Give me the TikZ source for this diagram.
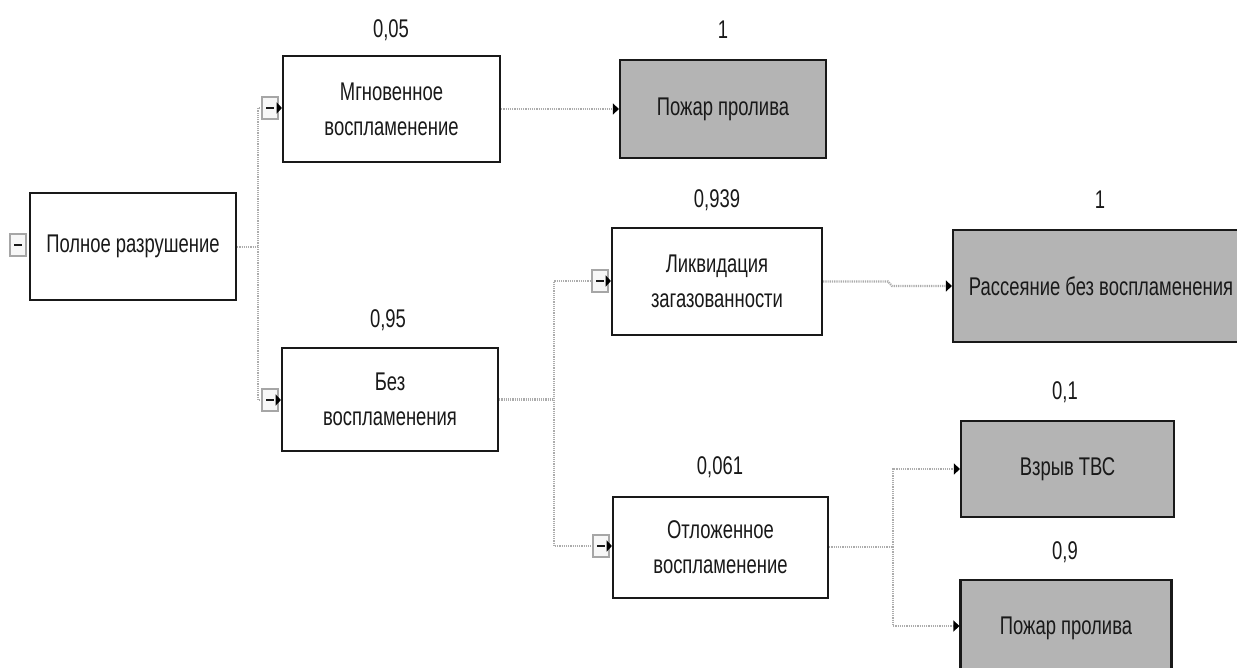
\documentclass[tikz,border=0pt]{standalone}
\usepackage{fontspec}
\setmainfont[FakeStretch=0.72]{Liberation Sans}
\usetikzlibrary{arrows.meta}
\definecolor{boxgray}{RGB}{180,180,180}
\definecolor{inkc}{RGB}{25,25,25}
\begin{document}
\begin{tikzpicture}[x=0.5pt,y=-0.5pt,
  txt/.style={font=\fontsize{12.8}{17.5}\selectfont, text=inkc},
  box/.style={txt, draw=inkc, line width=1.1pt, inner sep=0pt, align=center, fill=white},
  endbox/.style={box, fill=boxgray},
  num/.style={txt, inner sep=0pt},
  icon/.style={draw=gray!70, fill=gray!6, line width=0.9pt, minimum width=8pt, minimum height=11pt, inner sep=0pt,
    path picture={\draw[line width=1.4pt, inkc] ([xshift=-2pt]path picture bounding box.center) -- ([xshift=2pt]path picture bounding box.center);}},
  conn/.style={draw=gray!65, line width=1.1pt, dash pattern=on 0.6pt off 0.5pt},
  tip/.style={-{Triangle[length=3pt,width=5.5pt,color=black]}},
  short/.style={draw=black, line width=0.5pt, -{Triangle[length=2.6pt,width=5.5pt,color=black]}}
]
\clip (0,0) rectangle (1237,668);
\fill[white] (0,0) rectangle (1237,668);

% boxes
\node[box, minimum width=103pt, minimum height=53.5pt] (A) at (133,246.5) {Полное разрушение};
\node[box, minimum width=108.5pt, minimum height=53pt] (B) at (391.5,109) {Мгновенное\\воспламенение};
\node[box, minimum width=108pt, minimum height=51.5pt] (C) at (390,399.5) {Без\\воспламенения};
\node[endbox, minimum width=103pt, minimum height=49pt] (D) at (723,109) {Пожар пролива};
\node[box, minimum width=105pt, minimum height=53.5pt] (E) at (717,281.5) {Ликвидация\\загазованности};
\node[box, minimum width=107.5pt, minimum height=50.5pt] (F) at (720.5,547.5) {Отложенное\\воспламенение};
\node[endbox, minimum width=148pt, minimum height=56pt] (G) at (1101,286) {Рассеяние без воспламенения};
\node[endbox, minimum width=106.5pt, minimum height=48pt] (H) at (1067.5,469) {Взрыв ТВС};
\node[endbox, minimum width=105.5pt, minimum height=48pt] (I) at (1066,628) {Пожар пролива};

% numbers
\node[num] (nB) at (391,30) {0,05};
\node[num] (nD) at (723,30) {1};
\node[num] (nC) at (388,320) {0,95};
\node[num] (nE) at (717,200) {0,939};
\node[num] (nG) at (1100,200) {1};
\node[num] (nF) at (720,467) {0,061};
\node[num] (nH) at (1065,392) {0,1};
\node[num] (nI) at (1065,552) {0,9};

% collapse icons
\node[icon] (mA) at (18,245) {};
\node[icon] (mB) at (270,108) {};
\node[icon] (mC) at (270,400) {};
\node[icon] (mE) at (600,281) {};
\node[icon] (mF) at (601,546) {};

% junctions
\coordinate (j1) at (258,247);
\coordinate (j2) at (554,399.5);
\coordinate (j3) at (893,547);
\coordinate (k1) at (888,281.5);
\coordinate (k2) at (892,286);

% connectors
\draw[conn] (A.east |- j1) -- (j1) |- (mB.west);
\draw[conn] (j1) |- (mC.west);
\draw[short] (mB.east) -- (mB.east -| B.west);
\draw[short] (mC.east) -- (mC.east -| C.west);

\draw[conn, tip] (B.east) -- (D.west);

\draw[conn] (C.east |- j2) -- (j2) |- (mE.west);
\draw[conn] (j2) |- (mF.west);
\draw[short] (mE.east) -- (mE.east -| E.west);
\draw[short] (mF.east) -- (mF.east -| F.west);

\draw[conn, tip] (E.east |- k1) -- (k1) -- (k2) -- (G.west |- k2);

\draw[conn] (F.east |- j3) -- (j3);
\draw[conn, tip] (j3) |- (H.west);
\draw[conn, tip] (j3) |- ([yshift=1pt]I.west);
\end{tikzpicture}
\end{document}
